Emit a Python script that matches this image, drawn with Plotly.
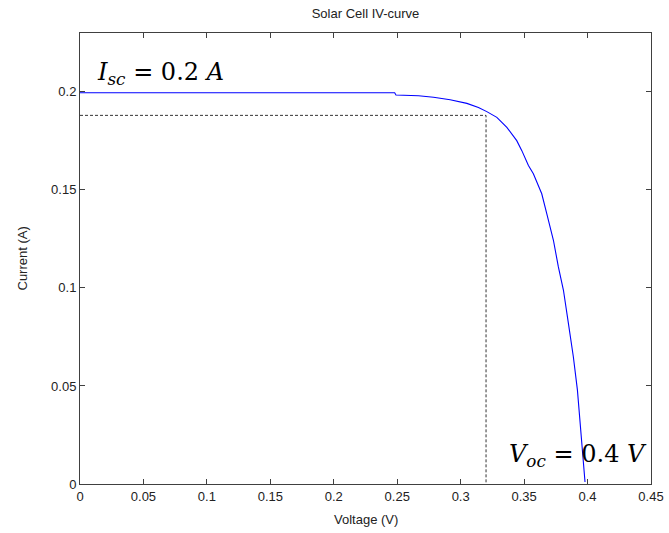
import plotly.graph_objects as go

# IV-curve data
voltage = [0.0, 0.05, 0.10, 0.15, 0.20, 0.248, 0.249, 0.2668, 0.2786, 0.2917, 0.3049, 0.314,
           0.3206, 0.3285, 0.3364, 0.3442, 0.3482, 0.3534, 0.3573, 0.3639, 0.3679, 0.3731,
           0.377, 0.381, 0.3849, 0.3888, 0.392, 0.3941, 0.3954, 0.3972, 0.398]
current = [0.1995, 0.1995, 0.1995, 0.1995, 0.1995, 0.1995, 0.1984, 0.198, 0.1972, 0.196, 0.1941, 0.192,
           0.1899, 0.187, 0.1819, 0.1751, 0.170, 0.1624, 0.1582, 0.148, 0.1378, 0.1243,
           0.1107, 0.0988, 0.0819, 0.0649, 0.048, 0.031, 0.0174, 0.0039, 0.001]

# maximum power point guide lines
mpp_v = 0.32
mpp_i = 0.188

x_ticks = [0, 0.05, 0.1, 0.15, 0.2, 0.25, 0.3, 0.35, 0.4, 0.45]
x_tick_labels = ["0", "0.05", "0.1", "0.15", "0.2", "0.25", "0.3", "0.35", "0.4", "0.45"]
y_ticks = [0, 0.05, 0.1, 0.15, 0.2]
y_tick_labels = ["0", "0.05", "0.1", "0.15", "0.2"]

W, H = 669, 533
L, R, T, B = 80, 18, 33, 49

fig = go.Figure()
fig.add_trace(go.Scatter(x=[0, mpp_v, mpp_v], y=[mpp_i, mpp_i, 0], mode="lines",
                         line=dict(color="#333333", width=1, dash="3px,2px"),
                         hoverinfo="skip", showlegend=False))
fig.add_trace(go.Scatter(x=voltage, y=current, mode="lines",
                         line=dict(color="#0000ff", width=1.1), showlegend=False))

axis_font = dict(family="Liberation Sans, Arial, sans-serif", size=13, color="#222222")
math_font = dict(family="DejaVu Serif, serif", size=24, color="black")

fig.update_layout(
    width=W, height=H,
    margin=dict(l=L, r=R, t=T, b=B),
    paper_bgcolor="white", plot_bgcolor="white",
    title=dict(text="Solar Cell IV-curve", x=(L + W - R) / 2 / W, xanchor="center",
               y=1 - 13 / H, yanchor="middle", font=axis_font),
    xaxis=dict(range=[0, 0.45], tickvals=x_ticks, ticktext=x_tick_labels,
               ticks="inside", ticklen=5, tickcolor="#404040", tickwidth=1,
               showline=True, linecolor="#404040", linewidth=1, mirror="ticks",
               showgrid=False, zeroline=False, tickfont=axis_font, automargin=False),
    yaxis=dict(range=[0, 0.23], tickvals=y_ticks, ticktext=y_tick_labels,
               ticks="inside", ticklen=5, tickcolor="#404040", tickwidth=1,
               showline=True, linecolor="#404040", linewidth=1, mirror="ticks",
               showgrid=False, zeroline=False, tickfont=axis_font, automargin=False),
    annotations=[
        dict(x=0.5, y=-(519 - (H - B)) / (H - T - B), xref="paper", yref="paper",
             xanchor="center", yanchor="middle", text="Voltage (V)", showarrow=False,
             font=axis_font),
        dict(x=-(L - 22) / (W - L - R), y=0.5, xref="paper", yref="paper",
             xanchor="center", yanchor="middle", text="Current (A)", showarrow=False,
             textangle=-90, font=axis_font),
        dict(x=0.012, y=0.2095, xref="x", yref="y", xanchor="left", yanchor="middle",
             text="<i>I</i><sub><i>sc</i></sub> = 0.2 <i>A</i>", showarrow=False,
             font=math_font),
        dict(x=0.4485, y=0.0145, xref="x", yref="y", xanchor="right", yanchor="middle",
             text="<i>V</i><sub><i>oc</i></sub> = 0.4 <i>V</i>", showarrow=False,
             font=math_font),
    ],
)

fig.write_html("out.html")
